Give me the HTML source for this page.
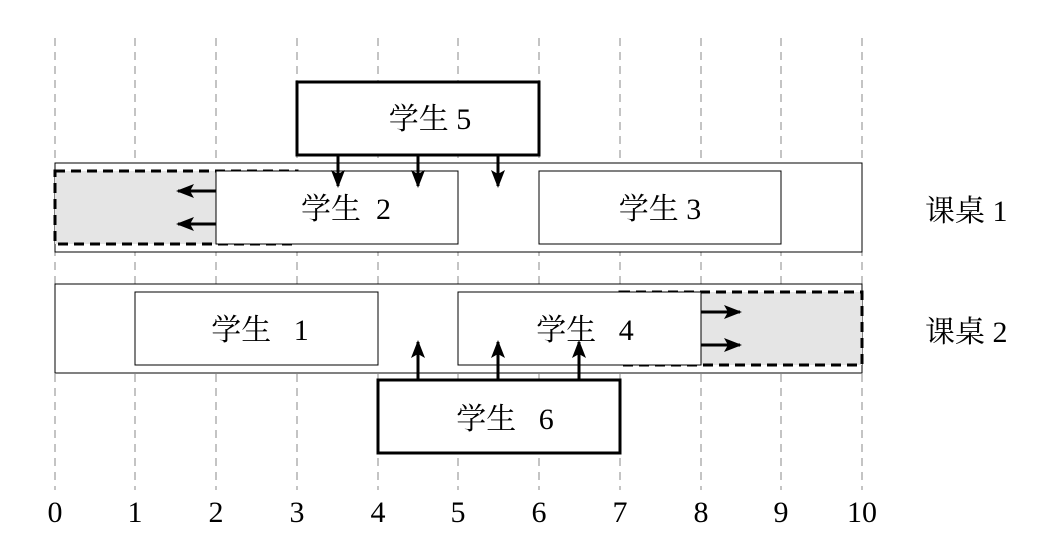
<!DOCTYPE html>
<html><head><meta charset="utf-8"><style>body{margin:0;background:#fff}svg{display:block}text{font-family:"Liberation Serif","Noto Serif CJK SC",serif;font-size:30px;white-space:pre}</style></head><body>
<svg width="1039" height="548" xmlns="http://www.w3.org/2000/svg">
<defs><marker id="a" markerWidth="18" markerHeight="14" refX="16" refY="7" orient="auto" markerUnits="userSpaceOnUse" viewBox="0 0 18 14"><path d="M0,0 L18,7 L0,14 L4,7 z" fill="#000"/></marker></defs>
<g stroke="#888" stroke-width="1" stroke-dasharray="8,6">
<line x1="55" y1="38" x2="55" y2="490"/><line x1="135" y1="38" x2="135" y2="490"/><line x1="216" y1="38" x2="216" y2="490"/><line x1="297" y1="38" x2="297" y2="490"/><line x1="378" y1="38" x2="378" y2="490"/><line x1="458" y1="38" x2="458" y2="490"/><line x1="539" y1="38" x2="539" y2="490"/><line x1="620" y1="38" x2="620" y2="490"/><line x1="701" y1="38" x2="701" y2="490"/><line x1="781" y1="38" x2="781" y2="490"/><line x1="862" y1="38" x2="862" y2="490"/>
</g>
<g text-anchor="middle">
<text x="55" y="522">0</text><text x="135" y="522">1</text><text x="216" y="522">2</text><text x="297" y="522">3</text><text x="378" y="522">4</text><text x="458" y="522">5</text><text x="539" y="522">6</text><text x="620" y="522">7</text><text x="701" y="522">8</text><text x="781" y="522">9</text><text x="862" y="522">10</text>
</g>
<rect x="55" y="163" width="807" height="89" fill="#fff" stroke="#000" stroke-width="1"/>
<rect x="55" y="284" width="807" height="89" fill="#fff" stroke="#000" stroke-width="1"/>
<rect x="55" y="171" width="242" height="73" fill="#e5e5e5" stroke="#000" stroke-width="3" stroke-dasharray="10,6"/>
<rect x="620" y="292" width="242" height="73" fill="#e5e5e5" stroke="#000" stroke-width="3" stroke-dasharray="10,6"/>
<g fill="#fff" stroke="#000" stroke-width="1">
<rect x="216" y="171" width="242" height="73"/><rect x="539" y="171" width="242" height="73"/>
<rect x="135" y="292" width="243" height="73"/><rect x="458" y="292" width="243" height="73"/>
</g>
<g fill="#fff" stroke="#000" stroke-width="3">
<rect x="297" y="82" width="242" height="73"/><rect x="378" y="380" width="242" height="73"/>
</g>
<g stroke="#000" stroke-width="3" marker-end="url(#a)">
<line x1="216" y1="191" x2="178" y2="191"/><line x1="216" y1="224" x2="178" y2="224"/>
<line x1="701" y1="312" x2="740" y2="312"/><line x1="701" y1="345" x2="740" y2="345"/>
<line x1="338" y1="155" x2="338" y2="186"/><line x1="418" y1="155" x2="418" y2="186"/><line x1="498" y1="155" x2="498" y2="186"/>
<line x1="418" y1="380" x2="418" y2="342"/><line x1="498" y1="380" x2="498" y2="342"/><line x1="579" y1="380" x2="579" y2="342"/>
</g>
<g text-anchor="middle">
<text x="430" y="129">学生 5</text><text x="346" y="219">学生&#160;&#160;2</text><text x="660" y="219">学生 3</text>
<text x="260" y="340">学生&#160;&#160;&#160;1</text><text x="585" y="340">学生&#160;&#160;&#160;4</text><text x="505" y="429">学生&#160;&#160;&#160;6</text>
</g>
<text x="925" y="221">课桌 1</text><text x="925" y="342">课桌 2</text>
</svg>
</body></html>
